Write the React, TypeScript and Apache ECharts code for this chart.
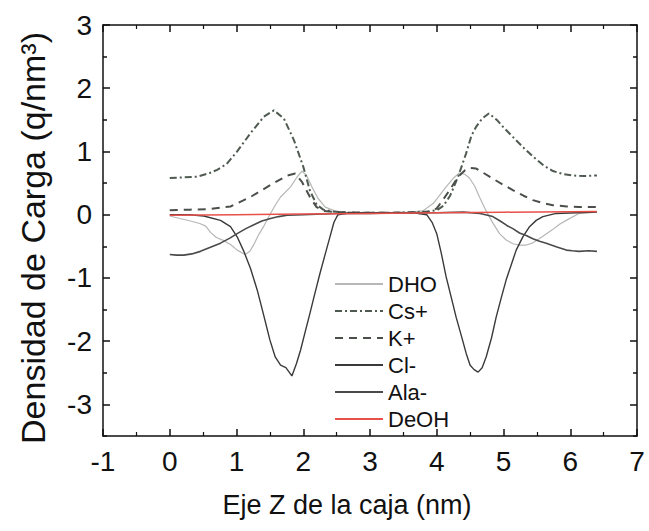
import React, { useEffect, useRef } from "react";
import * as echarts from "echarts";

const xTicks = [-1, 0, 1, 2, 3, 4, 5, 6, 7];
const yMajor = [-3, -2, -1, 0, 1, 2, 3];
const yMinor = [-3.5, -2.5, -1.5, -0.5, 0.5, 1.5, 2.5];

const seriesNames = ["DHO", "Cs+", "K+", "Cl-", "Ala-", "DeOH"];

const dho: number[][] = [
  [0, -0.02], [0.15, -0.06], [0.31, -0.1], [0.45, -0.14], [0.54, -0.18], [0.61, -0.28], [0.7, -0.36],
  [0.81, -0.41], [0.92, -0.48], [1.01, -0.56], [1.13, -0.63], [1.2, -0.58], [1.26, -0.47], [1.33, -0.32],
  [1.41, -0.18], [1.51, 0.02], [1.58, 0.15], [1.66, 0.28], [1.81, 0.44], [1.91, 0.6], [1.98, 0.69],
  [2.05, 0.62], [2.13, 0.44], [2.22, 0.26], [2.33, 0.12], [2.5, 0.05], [2.7, 0.03], [3.0, 0.03],
  [3.3, 0.03], [3.6, 0.04], [3.79, 0.06], [3.95, 0.18], [4.14, 0.44], [4.25, 0.58], [4.34, 0.66],
  [4.42, 0.64], [4.49, 0.58], [4.57, 0.45], [4.64, 0.28], [4.74, 0.06], [4.84, -0.13], [4.94, -0.3],
  [5.04, -0.4], [5.14, -0.46], [5.24, -0.48], [5.34, -0.48], [5.43, -0.45], [5.58, -0.35], [5.73, -0.24],
  [5.84, -0.15], [5.94, -0.09], [6.13, 0.02], [6.4, 0.04],
];

const cs: number[][] = [
  [0, 0.58], [0.2, 0.59], [0.41, 0.6], [0.6, 0.66], [0.71, 0.71], [0.85, 0.8], [1.01, 1.0], [1.21, 1.29],
  [1.41, 1.55], [1.56, 1.65], [1.71, 1.52], [1.86, 1.18], [2.0, 0.76], [2.1, 0.38], [2.2, 0.16],
  [2.3, 0.08], [2.45, 0.05], [2.7, 0.03], [3.0, 0.03], [3.3, 0.03], [3.6, 0.04], [3.85, 0.05],
  [4.0, 0.07], [4.1, 0.14], [4.2, 0.3], [4.32, 0.6], [4.44, 0.97], [4.52, 1.25], [4.59, 1.39],
  [4.68, 1.52], [4.78, 1.6], [4.9, 1.5], [5.0, 1.38], [5.14, 1.23], [5.3, 1.06], [5.44, 0.92],
  [5.6, 0.78], [5.74, 0.69], [5.9, 0.64], [6.03, 0.62], [6.2, 0.61], [6.4, 0.62],
];

const kp: number[][] = [
  [0, 0.07], [0.3, 0.08], [0.61, 0.09], [0.91, 0.13], [1.21, 0.28], [1.51, 0.47], [1.76, 0.62],
  [1.88, 0.65], [1.98, 0.52], [2.1, 0.28], [2.2, 0.12], [2.3, 0.06], [2.5, 0.04], [3.0, 0.03],
  [3.5, 0.03], [3.9, 0.04], [4.0, 0.1], [4.09, 0.23], [4.2, 0.4], [4.32, 0.6], [4.42, 0.7],
  [4.49, 0.74], [4.59, 0.73], [4.7, 0.66], [4.84, 0.57], [5.0, 0.47], [5.14, 0.39], [5.3, 0.3],
  [5.44, 0.23], [5.6, 0.18], [5.74, 0.15], [5.95, 0.13], [6.13, 0.12], [6.4, 0.12],
];

const cl: number[][] = [
  [0, 0.0], [0.3, 0.0], [0.51, -0.02], [0.76, -0.09], [0.91, -0.19], [1.01, -0.35], [1.11, -0.58],
  [1.21, -0.85], [1.31, -1.19], [1.41, -1.6], [1.5, -1.98], [1.58, -2.25], [1.66, -2.38], [1.74, -2.42],
  [1.83, -2.55], [1.9, -2.35], [1.96, -2.14], [2.03, -1.85], [2.1, -1.56], [2.18, -1.22], [2.25, -0.93],
  [2.33, -0.62], [2.4, -0.35], [2.46, -0.12], [2.52, 0.0], [2.7, 0.03], [3.0, 0.03], [3.3, 0.03],
  [3.65, 0.03], [3.85, 0.0], [3.93, -0.12], [4.0, -0.3], [4.07, -0.62], [4.14, -0.98], [4.22, -1.32],
  [4.29, -1.62], [4.37, -1.92], [4.44, -2.19], [4.5, -2.38], [4.56, -2.45], [4.62, -2.49], [4.68, -2.42],
  [4.74, -2.25], [4.82, -1.95], [4.89, -1.62], [4.97, -1.3], [5.04, -1.03], [5.12, -0.78], [5.19, -0.56],
  [5.29, -0.35], [5.39, -0.19], [5.49, -0.09], [5.59, -0.03], [5.79, 0.02], [6.1, 0.03], [6.4, 0.04],
];

const ala: number[][] = [
  [0, -0.63], [0.1, -0.64], [0.21, -0.64], [0.33, -0.62], [0.46, -0.58], [0.6, -0.52], [0.76, -0.45],
  [0.9, -0.37], [1.01, -0.3], [1.14, -0.22], [1.26, -0.16], [1.38, -0.1], [1.51, -0.06], [1.63, -0.03],
  [1.76, -0.01], [2.0, 0.0], [2.5, 0.02], [3.0, 0.02], [3.5, 0.03], [4.0, 0.03], [4.4, 0.04],
  [4.65, 0.02], [4.84, -0.03], [4.95, -0.1], [5.05, -0.17], [5.14, -0.22], [5.24, -0.29], [5.34, -0.33],
  [5.44, -0.38], [5.54, -0.42], [5.64, -0.45], [5.8, -0.51], [5.94, -0.56], [6.03, -0.57], [6.13, -0.58],
  [6.28, -0.57], [6.4, -0.58],
];

const deoh: number[][] = [
  [0, -0.01], [1, 0.0], [2, 0.01], [3, 0.02], [4, 0.03], [5, 0.04], [6.4, 0.05],
];

const FONT = "'Liberation Sans', Arial, sans-serif";

export default function App() {
  const ref = useRef<HTMLDivElement>(null);
  useEffect(() => {
    if (!ref.current) return;
    const chart = echarts.init(ref.current, null, { renderer: "svg" });
    const axisLine = { show: true, onZero: false, lineStyle: { color: "#111", width: 1.5 } };
    const xBase = {
      type: "value" as const,
      min: xTicks[0],
      max: xTicks[xTicks.length - 1],
      interval: 1,
      axisLine,
      splitLine: { show: false },
      axisTick: { show: true, inside: true, length: 7, lineStyle: { color: "#111", width: 1.5 } },
      minorTick: { show: true, splitNumber: 2, length: 4, lineStyle: { color: "#111", width: 1.2 } },
    };
    const yBase = {
      type: "value" as const,
      min: -3.5,
      max: 3,
      splitLine: { show: false },
    };
    const tickSet = (vals: number[], len: number) => ({
      show: true,
      inside: true,
      length: len,
      customValues: vals,
      lineStyle: { color: "#111", width: 1.5 },
    });
    const hiddenLine = { show: false, onZero: false };
    chart.setOption({
      animation: false,
      backgroundColor: "#fff",
      grid: { left: 103, right: 12, top: 25, bottom: 95, containLabel: false },
      xAxis: [
        {
          ...xBase,
          position: "bottom",
          axisLabel: { show: true, fontSize: 28, color: "#111", fontFamily: FONT, margin: 11 },
        },
        { ...xBase, position: "top", axisLabel: { show: false } },
      ],
      yAxis: [
        {
          ...yBase,
          position: "left",
          axisLine,
          axisTick: tickSet(yMajor, 7),
          axisLabel: {
            show: true,
            customValues: yMajor,
            fontSize: 28,
            color: "#111",
            fontFamily: FONT,
            margin: 11,
          },
        },
        {
          ...yBase,
          position: "left",
          axisLine: hiddenLine,
          axisTick: tickSet(yMinor, 4),
          axisLabel: { show: false },
        },
        {
          ...yBase,
          position: "right",
          axisLine,
          axisTick: tickSet(yMajor, 7),
          axisLabel: { show: false },
        },
        {
          ...yBase,
          position: "right",
          axisLine: hiddenLine,
          axisTick: tickSet(yMinor, 4),
          axisLabel: { show: false },
        },
      ],
      legend: {
        orient: "vertical",
        left: 329,
        top: 268,
        itemWidth: 48,
        itemHeight: 12,
        itemGap: 5,
        data: seriesNames,
        itemStyle: { opacity: 0 },
        textStyle: { fontSize: 22, color: "#111", fontFamily: FONT, lineHeight: 22 },
      },
      graphic: [
        {
          type: "text",
          x: 347,
          y: 505,
          style: {
            text: "Eje Z de la caja (nm)",
            fontSize: 27,
            fontFamily: FONT,
            fill: "#111",
            align: "center",
            verticalAlign: "middle",
          },
        },
        {
          type: "text",
          x: 33,
          y: 238,
          rotation: Math.PI / 2,
          style: {
            text: "Densidad de Carga (q/nm³)",
            fontSize: 34,
            fontFamily: FONT,
            fill: "#111",
            align: "center",
            verticalAlign: "middle",
          },
        },
      ],
      series: [
        {
          name: "DHO",
          type: "line",
          data: dho,
          symbol: "none",
          lineStyle: { color: "#b5b8b5", width: 1.2 },
          itemStyle: { color: "#b5b8b5" },
        },
        {
          name: "Cs+",
          type: "line",
          data: cs,
          symbol: "none",
          lineStyle: { color: "#4f5a50", width: 2, type: [7, 3, 2, 3] },
          itemStyle: { color: "#4f5a50" },
        },
        {
          name: "K+",
          type: "line",
          data: kp,
          symbol: "none",
          lineStyle: { color: "#4a4f4a", width: 2, type: [8, 6] },
          itemStyle: { color: "#4a4f4a" },
        },
        {
          name: "Cl-",
          type: "line",
          data: cl,
          symbol: "none",
          lineStyle: { color: "#3a3a3a", width: 1.4 },
          itemStyle: { color: "#3a3a3a" },
        },
        {
          name: "Ala-",
          type: "line",
          data: ala,
          symbol: "none",
          lineStyle: { color: "#4a4a4a", width: 1.6 },
          itemStyle: { color: "#4a4a4a" },
        },
        {
          name: "DeOH",
          type: "line",
          data: deoh,
          symbol: "none",
          lineStyle: { color: "#e8504a", width: 1.5 },
          itemStyle: { color: "#e8504a" },
        },
      ],
    });
    return () => chart.dispose();
  }, []);
  return (
    <div
      ref={ref}
      style={{ position: "fixed", left: 0, top: 0, width: 649, height: 531, background: "#fff" }}
    />
  );
}
